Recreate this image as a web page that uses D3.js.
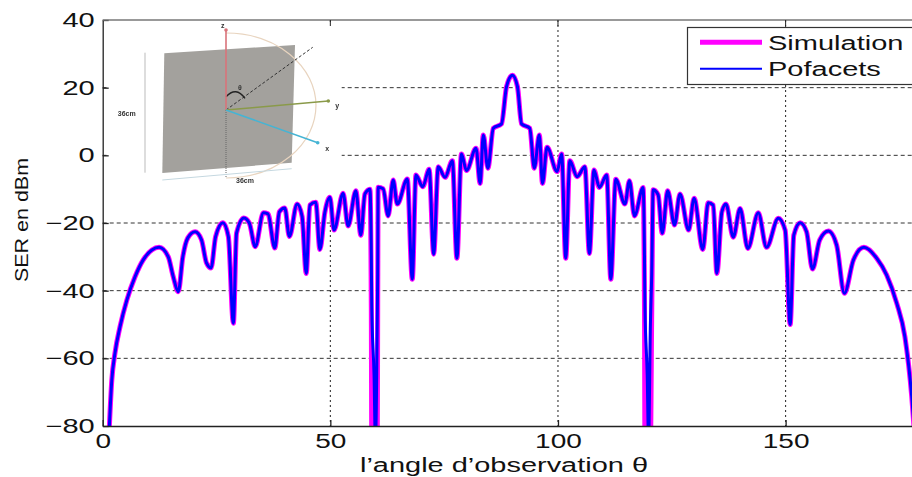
<!DOCTYPE html>
<html>
<head>
<meta charset="utf-8">
<script src="https://cdn.jsdelivr.net/npm/d3@7"></script>
<style>
  html, body { margin: 0; padding: 0; background: #fff; overflow: hidden; }
  svg { display: block; }
  text { font-family: "Liberation Sans", Arial, sans-serif; fill: #111; }
</style>
</head>
<body>
<svg width="912" height="477">
  <defs><filter id="soft"><feGaussianBlur stdDeviation="0.45"></feGaussianBlur></filter></defs>
</svg>
<script>
var xTicks = [0, 50, 100, 150];
var yTicks = [-80, -60, -40, -20, 0, 20, 40];
var seriesNames = ['Simulation', 'Pofacets'];

// one row per group of lobes
var thetaValues = [
  1.4, 2.0, 2.7, 3.8, 5.3, 7.1, 8.9, 10.8, 12.4, 14.4, 15.5, 16.6, 17.6, 18.7, 20.3, 21.7, 22.8, 23.8,
  24.8, 26.4, 27.6, 28.7, 29.4, 31, 32.2, 33.5, 35.3, 36.3, 37.8, 38.8, 40, 41, 42.7, 43.8, 44.7, 45.5,
  46.8, 47.7, 48.8, 49.9, 50.8, 52.8, 53.9, 55.6, 56.7, 57.6, 58.7,
  59.0, 59.1, 59.6, 59.9, 60.3, 60.4, 60.5,
  61.6, 62.7, 63.8, 64.7, 66.9, 68, 68.8, 70.3, 71.7, 72.7, 73.7, 75.2, 76.8, 77.8, 78.8, 79.9,
  82, 82.9, 83.6, 84.6, 85.8, 87.6, 88.7, 90, 91.1, 92, 93.8, 94.8, 95.9, 96.6, 97.6, 99.8,
  100.8, 101.7, 102.6, 104.2, 105.9, 106.9, 107.9, 109.1, 110.7, 111.6, 112.7, 114.7, 115.7, 116.8, 118.7,
  119.0, 119.1, 119.6, 119.9, 120.3, 120.6, 120.9,
  122, 122.9, 124.1, 125.6, 126.8, 128.7, 129.9, 131.8, 133, 134.1, 134.9, 136, 136.9, 138.5, 140, 141.7,
  144, 145.8, 148.4, 149.9, 151, 151.8, 153.2, 154.6, 155.9, 157.5, 159.4, 161.2, 162.9, 164.9, 167.2,
  170, 172.2, 174.4, 176.2, 177.7, 178.3
];

var simulationValues = [
  -82, -66.4, -58.4, -50.7, -42.8, -35.9, -30.9, -28, -27.2, -30, -35.9, -40.3, -30, -24.4, -22.6, -25, -31.8, -33.3,
  -24, -19.9, -24, -49.6, -23, -18.5, -20, -27, -17, -17.3, -27.4, -16.7, -15.6, -24, -14.4, -18.1, -34.9, -14.7,
  -13.9, -27.8, -16.8, -12.4, -22.1, -11.2, -20.9, -10.5, -23.6, -11.4, -10,
  -45, -85, -85, -85, -85, -45, -9.4,
  -9.9, -17.9, -7.3, -14.4, -7, -36.6, -5.8, -9.3, -4.1, -29.2, -3.4, -6.5, -1.6, -30.4, 0.4, -4.5,
  2.1, -8.3, 6, -3.8, 8, 9.3, 20.3, 23.7, 20.3, 9.3, 8, -3.8, 6, -8.3, 2.4, -4.8,
  0.4, -30.4, -1.6, -6.3, -3.4, -29, -4.3, -9.5, -5.8, -36.6, -7.1, -14.4, -7.5, -17.9, -9.5,
  -45, -85, -85, -85, -85, -45, -10.2,
  -11.7, -23, -10.5, -20.6, -11.4, -22.1, -12.7, -27.8, -14, -14.7, -34.9, -16.7, -14.4, -24.2, -15.7, -27.5,
  -17, -27.2, -18.6, -22.1, -50, -23.6, -19.9, -22.6, -33.6, -25, -22.4, -26.5, -40.8, -30.9, -27.2,
  -30.4, -35.4, -43.7, -53.6, -71.3, -82
];

var pofacetsValues = [
  -82, -66.4, -58.4, -50.7, -42.8, -35.9, -30.9, -28, -27.2, -30, -35.9, -40.3, -30, -24.4, -22.6, -25, -31.8, -33.3,
  -24, -19.9, -24, -49.6, -23, -18.5, -20, -27, -17, -17.3, -27.4, -16.7, -15.6, -24, -14.4, -18.1, -34.9, -14.7,
  -13.9, -27.8, -16.8, -12.4, -22.1, -11.2, -20.9, -10.5, -23.6, -11.4, -10,
  -30, -45, -65, -85, -50, -35, -9.4,
  -9.9, -17.9, -7.3, -14.4, -7, -36.6, -5.8, -9.3, -4.1, -29.2, -3.4, -6.5, -1.6, -30.4, 0.4, -4.5,
  2.1, -8.3, 6, -3.8, 8, 9.3, 20.3, 23.7, 20.3, 9.3, 8, -3.8, 6, -8.3, 2.4, -4.8,
  0.4, -30.4, -1.6, -6.3, -3.4, -29, -4.3, -9.5, -5.8, -36.6, -7.1, -14.4, -7.5, -17.9, -9.5,
  -30, -45, -65, -85, -50, -35, -10.2,
  -11.7, -23, -10.5, -20.6, -11.4, -22.1, -12.7, -27.8, -14, -14.7, -34.9, -16.7, -14.4, -24.2, -15.7, -27.5,
  -17, -27.2, -18.6, -22.1, -50, -23.6, -19.9, -22.6, -33.6, -25, -22.4, -26.5, -40.8, -30.9, -27.2,
  -30.4, -35.4, -43.7, -53.6, -71.3, -82
];

var left = 102.7, right = 922.2, top_ = 20, bottom = 426;

var svg = d3.select('svg');
var x = d3.scaleLinear().domain([0, 180]).range([left, right]);
var y = d3.scaleLinear().domain([-80, 40]).range([bottom, top_]);

// the source picture is stretched sideways, so stretch the text the same way
var stretch = function(sel, k) {
  sel.each(function() {
    var len = this.getComputedTextLength();
    d3.select(this).attr('textLength', len * k).attr('lengthAdjust', 'spacingAndGlyphs');
  });
};

// grid
svg.append('g').selectAll('line').data(yTicks.slice(1, -1)).enter().append('line')
  .attr('x1', left).attr('x2', right)
  .attr('y1', function(d) { return y(d); }).attr('y2', function(d) { return y(d); })
  .attr('stroke', '#333').attr('stroke-dasharray', '4 3');
svg.append('g').selectAll('line').data(xTicks.slice(1)).enter().append('line')
  .attr('y1', top_).attr('y2', bottom)
  .attr('x1', function(d) { return x(d); }).attr('x2', function(d) { return x(d); })
  .attr('stroke', '#222').attr('stroke-dasharray', '2 3');

// white patch of the pasted figure hides the grid under it
svg.append('rect').attr('x', left + 4).attr('y', top_ + 2).attr('width', 235).attr('height', 198).attr('fill', '#fff');

// inset figure
var inset = svg.append('g').attr('filter', 'url(#soft)');
inset.append('path').attr('d', 'M164.3 53.3L295 45L291.7 162.7L162.3 173Z').attr('fill', '#a3a19d');
inset.append('path').attr('d', 'M226 33A90 72.5 0 0 1 226 178').attr('fill', 'none').attr('stroke', '#e8d4bf').attr('stroke-width', 1.2);
inset.append('line').attr('x1', 226).attr('y1', 110).attr('x2', 226).attr('y2', 178).attr('stroke', '#666').attr('stroke-dasharray', '1 1');
inset.append('line').attr('x1', 226).attr('y1', 110).attr('x2', 312.7).attr('y2', 47.3).attr('stroke', '#333').attr('stroke-dasharray', '3 2');
inset.append('path').attr('d', 'M226 96.7Q236 86 245 98.3').attr('fill', 'none').attr('stroke', '#222').attr('stroke-width', 1.4);

var arrow = function(x2, y2, color) {
  inset.append('line').attr('x1', 226).attr('y1', 110).attr('x2', x2).attr('y2', y2)
    .attr('stroke', color).attr('stroke-width', 1.6);
  inset.append('circle').attr('cx', x2).attr('cy', y2).attr('r', 1.8).attr('fill', color);
};
arrow(226, 30, '#d9737a');
arrow(328.3, 101, '#8a9a4a');
arrow(317.7, 142.7, '#45b4d4');

inset.append('line').attr('x1', 145).attr('y1', 52.7).attr('x2', 145).attr('y2', 172.7).attr('stroke', '#bbb');
inset.append('line').attr('x1', 162.3).attr('y1', 180).attr('x2', 291.7).attr('y2', 168.7).attr('stroke', '#c5d8e0');

var insetLabels = [
  ['z', 222.7, 28], ['y', 337.3, 108], ['x', 327.3, 151], ['θ', 240, 90],
  ['36cm', 126.7, 116], ['36cm', 245, 183]
];
inset.selectAll('text').data(insetLabels).enter().append('text')
  .attr('x', function(d) { return d[1]; })
  .attr('y', function(d) { return d[2]; })
  .attr('text-anchor', 'middle').attr('font-size', 7).attr('font-weight', 'bold')
  .style('fill', '#333')
  .text(function(d) { return d[0]; });

// curves
svg.append('clipPath').attr('id', 'plot').append('rect')
  .attr('x', left).attr('y', top_).attr('width', right - left).attr('height', bottom - top_);

var line = d3.line()
  .curve(d3.curveMonotoneX)
  .x(function(d) { return x(d[0]); })
  .y(function(d) { return y(d[1]); });

svg.append('path').datum(d3.zip(thetaValues, simulationValues))
  .attr('d', line).attr('clip-path', 'url(#plot)')
  .attr('fill', 'none').attr('stroke', '#ff00ff').attr('stroke-width', 5).attr('stroke-linejoin', 'round');
svg.append('path').datum(d3.zip(thetaValues, pofacetsValues))
  .attr('d', line).attr('clip-path', 'url(#plot)')
  .attr('fill', 'none').attr('stroke', '#0000ff').attr('stroke-width', 3).attr('stroke-linejoin', 'round');

// axes
var xAxis = svg.append('g').attr('transform', 'translate(0,' + bottom + ')')
  .call(d3.axisBottom(x).tickValues(xTicks).tickSizeInner(-6).tickSizeOuter(0).tickPadding(8));
var yAxis = svg.append('g').attr('transform', 'translate(' + left + ',0)')
  .call(d3.axisLeft(y).tickValues(yTicks).tickSizeInner(-6).tickSizeOuter(0).tickPadding(8));
svg.selectAll('.tick text').attr('font-size', 20).style('font-family', '"Liberation Sans", Arial, sans-serif').style('fill', '#111');
xAxis.selectAll('.tick text').call(stretch, 1.4);
yAxis.selectAll('.tick text').call(stretch, 1.45);
xAxis.selectAll('.domain, .tick line').attr('stroke', '#222').attr('stroke-width', 1.3);
yAxis.selectAll('.domain, .tick line').attr('stroke', '#222').attr('stroke-width', 1.3);

svg.append('line').attr('x1', left).attr('x2', right).attr('y1', top_).attr('y2', top_)
  .attr('stroke', '#777').attr('stroke-width', 1.5);
svg.append('g').selectAll('line').data(xTicks.slice(1)).enter().append('line')
  .attr('y1', top_).attr('y2', top_ + 6)
  .attr('x1', function(d) { return x(d); }).attr('x2', function(d) { return x(d); })
  .attr('stroke', '#222');

svg.append('text').attr('x', 360).attr('y', 472).attr('font-size', 20)
  .attr('textLength', 288).attr('lengthAdjust', 'spacingAndGlyphs')
  .text('l’angle d’observation θ');
svg.append('text').attr('transform', 'translate(28,282) rotate(-90)').attr('font-size', 19)
  .attr('textLength', 124).attr('lengthAdjust', 'spacingAndGlyphs')
  .text('SER en dBm');

// legend
var legend = svg.append('g');
legend.append('rect').attr('x', 687.5).attr('y', 27.5).attr('width', 240).attr('height', 57)
  .attr('fill', '#fff').attr('stroke', '#333').attr('stroke-width', 1.2);
legend.append('line').attr('x1', 700).attr('x2', 762).attr('y1', 42.3).attr('y2', 42.3)
  .attr('stroke', '#ff00ff').attr('stroke-width', 5);
legend.append('line').attr('x1', 700).attr('x2', 762).attr('y1', 68.7).attr('y2', 68.7)
  .attr('stroke', '#0000ff').attr('stroke-width', 2);
legend.selectAll('text').data(seriesNames).enter().append('text')
  .attr('x', 768).attr('y', function(d, i) { return i === 0 ? 50 : 75.5; })
  .attr('font-size', 20)
  .text(function(d) { return d; })
  .call(stretch, 1.45);
</script>
</body>
</html>
